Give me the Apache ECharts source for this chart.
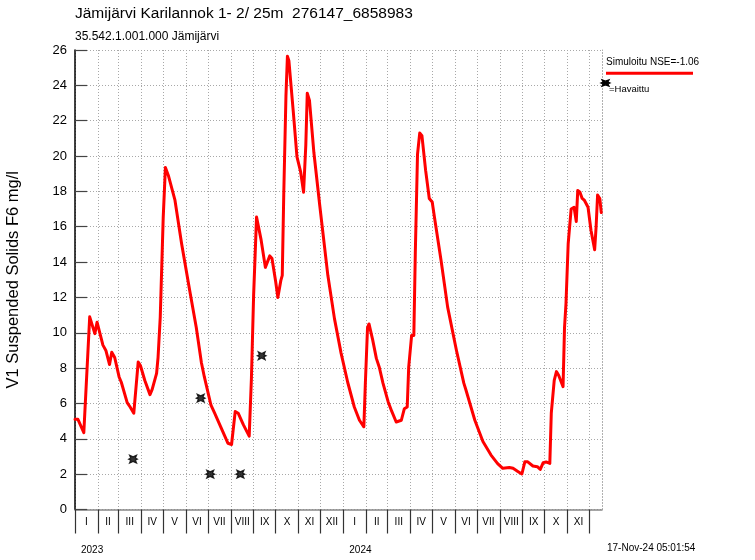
<!DOCTYPE html>
<html><head><meta charset="utf-8">
<script src="https://cdn.jsdelivr.net/npm/echarts@6/dist/echarts.min.js"></script>
<style>html,body{margin:0;padding:0;background:#fff}#c{width:755px;height:560px}</style>
</head><body><div id="c"></div>
<script>
// ---- data ----
const simDates = [
'2023-01-01','2023-01-05','2023-01-13','2023-01-21','2023-01-28','2023-01-31','2023-02-08','2023-02-12','2023-02-17','2023-02-20',
'2023-02-24','2023-03-02','2023-03-05','2023-03-13','2023-03-17','2023-03-22','2023-03-28','2023-03-31','2023-04-06','2023-04-13',
'2023-04-16','2023-04-22','2023-04-24','2023-04-27','2023-05-01','2023-05-04','2023-05-08','2023-05-17','2023-05-26','2023-06-06',
'2023-06-15','2023-06-22','2023-06-26','2023-07-05','2023-07-10','2023-07-19','2023-07-28','2023-08-02','2023-08-07','2023-08-11',
'2023-08-18','2023-08-26','2023-08-29','2023-09-01','2023-09-05','2023-09-07','2023-09-11','2023-09-17','2023-09-23','2023-09-26',
'2023-10-01','2023-10-04','2023-10-08','2023-10-10','2023-10-12','2023-10-15','2023-10-17','2023-10-19','2023-10-25','2023-10-30',
'2023-11-04','2023-11-08','2023-11-11','2023-11-13','2023-11-16','2023-11-22','2023-11-30','2023-12-11','2023-12-20','2023-12-29',
'2024-01-07','2024-01-16','2024-01-23','2024-01-29','2024-01-31','2024-02-03','2024-02-05','2024-02-10','2024-02-15','2024-02-19',
'2024-02-24','2024-03-02','2024-03-07','2024-03-13','2024-03-20','2024-03-24','2024-03-28','2024-03-30','2024-04-03','2024-04-06',
'2024-04-08','2024-04-11','2024-04-14','2024-04-17','2024-04-22','2024-04-27','2024-05-01','2024-05-04','2024-05-13','2024-05-22',
'2024-06-03','2024-06-13','2024-06-16','2024-06-28','2024-07-09','2024-07-20','2024-07-29','2024-08-05','2024-08-14','2024-08-19',
'2024-08-26','2024-08-31','2024-09-04','2024-09-08','2024-09-15','2024-09-21','2024-09-25','2024-09-29','2024-10-03','2024-10-08',
'2024-10-10','2024-10-14','2024-10-17','2024-10-20','2024-10-26','2024-10-28','2024-10-30','2024-11-02','2024-11-06','2024-11-10',
'2024-11-13','2024-11-15','2024-11-18','2024-11-21','2024-11-24','2024-11-29','2024-12-03','2024-12-08','2024-12-10','2024-12-12',
'2024-12-15','2024-12-17'
];
const simValues = [
5.1,5.1,4.35,10.9,9.95,10.6,9.3,9.0,8.2,8.9,
8.6,7.5,7.2,6.05,5.8,5.45,8.35,8.15,7.3,6.5,
6.8,7.7,8.6,10.9,16.5,19.35,18.9,17.5,15.05,12.4,
10.3,8.3,7.5,5.9,5.45,4.6,3.75,3.68,5.55,5.45,
4.8,4.15,7.4,12.1,16.55,16.45,15.3,13.7,14.35,14.2,
12.9,12.0,12.95,13.25,17.8,23.4,25.65,25.4,22.5,19.95,
19.1,17.95,20.6,23.55,23.15,20.2,17.2,13.25,10.8,8.85,
7.2,5.8,5.05,4.68,7.1,10.3,10.5,9.6,8.55,8.05,
7.15,6.1,5.55,4.95,5.05,5.7,5.8,8.05,9.85,9.85,
14.5,20.1,21.3,21.15,19.2,17.6,17.4,16.55,14.1,11.45,
9.0,7.15,6.75,5.05,3.85,3.08,2.6,2.33,2.38,2.33,
2.14,2.01,2.7,2.7,2.46,2.42,2.27,2.65,2.69,2.61,
5.45,7.3,7.8,7.6,6.95,10.3,11.65,15.05,17.0,17.1,
16.3,18.05,17.95,17.6,17.5,17.1,15.8,14.7,16.0,17.8,
17.6,16.8
];
const obsDates = ['2023-03-21','2023-06-21','2023-07-04','2023-08-14','2023-09-12'];
const obsValues = [2.85, 6.3, 2.0, 2.0, 8.7];

const romanMonths = ['I','II','III','IV','V','VI','VII','VIII','IX','X','XI','XII'];
const years = [2023, 2024];
const axisStart = '2023-01-01';
const axisEnd = '2024-12-18';
const yMin = 0, yMax = 26, yStep = 2;

const titleText = 'Jämijärvi Karilannok 1- 2/ 25m  276147_6858983';
const subText = '35.542.1.001.000 Jämijärvi';
const yName = 'V1 Suspended Solids F6 mg/l';
const simLabel = 'Simuloitu NSE=-1.06';
const obsLabel = '=Havaittu';
const stampText = '17-Nov-24 05:01:54';

// ---- build ----
const FONT = '"Liberation Sans", Arial, Helvetica, sans-serif';
function ts(s) { const p = s.split('-').map(Number); return new Date(p[0], p[1] - 1, p[2]).getTime(); }
const startTs = ts(axisStart), endTs = ts(axisEnd);
const monthStarts = [];
years.forEach(y => { for (let m = 0; m < 12; m++) monthStarts.push(new Date(y, m, 1).getTime()); });
const monthMids = [];
years.forEach(y => {
  for (let m = 0; m < 12; m++) {
    const s = new Date(y, m, 1).getTime(), e = new Date(y, m + 1, 1).getTime();
    if (e <= endTs) monthMids.push((s + e) / 2);
  }
});
const yearStarts = years.map(y => new Date(y, 0, 1).getTime());

const simData = simDates.map((d, i) => [ts(d), simValues[i]]);
const obsData = obsDates.map((d, i) => [ts(d), obsValues[i]]);

// asterisk-like marker outline in a 10x10 box
const STAR_PTS = [[10,5],[7.6,6.1],[8.9,8.9],[5,7.3],[1.1,8.9],[2.4,6.1],[0,5],[2.4,3.9],[1.1,1.1],[5,2.7],[8.9,1.1],[7.6,3.9]];
const STAR = 'M' + STAR_PTS.map(p => p[0] + ',' + p[1]).join('L') + 'Z';
const legendStarPts = STAR_PTS.map(p => [601 + p[0] * 0.9, 79 + p[1] * 0.8]);

const chart = echarts.init(document.getElementById('c'), null, {renderer: 'canvas'});
chart.setOption({
  animation: false,
  backgroundColor: '#fff',
  textStyle: {fontFamily: FONT},
  title: [
    {text: titleText, left: 75, top: 5, padding: 0,
     textStyle: {fontSize: 15.5, fontWeight: 'normal', color: '#000', fontFamily: FONT, lineHeight: 18}},
    {text: subText, left: 75, top: 30, padding: 0,
     textStyle: {fontSize: 12, fontWeight: 'normal', color: '#000', fontFamily: FONT, lineHeight: 14}}
  ],
  grid: {left: 75, right: 153, top: 50, bottom: 50.5, containLabel: false, outerBoundsMode: 'none'},
  xAxis: [
    {
      type: 'value', min: startTs, max: endTs, position: 'bottom', scale: true,
      axisLine: {show: true, lineStyle: {color: '#888', width: 1.5}},
      axisTick: {show: true, inside: false, length: 24, customValues: monthStarts,
                 lineStyle: {color: '#333', width: 1.2}},
      axisLabel: {show: true, customValues: monthMids, margin: 8, fontSize: 10, color: '#000', fontFamily: FONT,
                  formatter: v => romanMonths[new Date(v).getMonth()]},
      splitLine: {show: true, lineStyle: {color: '#a8a8a8', width: 1, type: [1, 2]}}
    },
    {
      type: 'value', min: startTs, max: endTs, position: 'bottom', scale: true,
      axisLine: {show: false}, axisTick: {show: false}, splitLine: {show: false},
      axisLabel: {show: true, customValues: yearStarts, margin: 36, fontSize: 10, color: '#000', fontFamily: FONT,
                  align: 'left', padding: [0, 0, 0, 6],
                  formatter: v => String(new Date(v).getFullYear())}
    }
  ],
  yAxis: [
    {
      type: 'value', min: yMin, max: yMax, interval: yStep, position: 'left',
      name: yName, nameLocation: 'middle', nameGap: 53, nameRotate: 90,
      nameTextStyle: {fontSize: 16.5, color: '#000', fontFamily: FONT},
      axisLine: {show: true, lineStyle: {color: '#000', width: 1.5}},
      axisTick: {show: true, inside: true, length: 12, lineStyle: {color: '#444', width: 1.2}},
      axisLabel: {margin: 8, fontSize: 13, color: '#000', fontFamily: FONT},
      splitLine: {show: true, lineStyle: {color: '#a8a8a8', width: 1, type: [1, 2]}}
    },
    {
      type: 'value', min: yMin, max: yMax, interval: yStep, position: 'right',
      axisLine: {show: true, lineStyle: {color: '#a8a8a8', width: 1, type: [1, 2]}},
      axisTick: {show: false}, axisLabel: {show: false}, splitLine: {show: false}
    }
  ],
  series: [
    {
      name: 'sim', type: 'line', data: simData, xAxisIndex: 0, yAxisIndex: 0,
      showSymbol: false, symbol: 'none', smooth: false,
      lineStyle: {color: '#ff0000', width: 3, join: 'round', cap: 'round'}, z: 3
    },
    {
      name: 'obs', type: 'scatter', data: obsData, xAxisIndex: 0, yAxisIndex: 0,
      symbol: 'path://' + STAR, symbolSize: [9, 8],
      itemStyle: {color: '#000', borderColor: '#000', borderWidth: 1.2}, z: 4
    }
  ],
  graphic: [
    {type: 'text', x: 606, y: 62, z: 10,
     style: {text: simLabel, font: '10px ' + FONT, fill: '#000', verticalAlign: 'middle'}},
    {type: 'line', z: 10, shape: {x1: 606, y1: 73.3, x2: 693, y2: 73.3},
     style: {stroke: '#ff0000', lineWidth: 3}},
    {type: 'polygon', z: 10, shape: {points: legendStarPts},
     style: {fill: '#000', stroke: '#000', lineWidth: 1.2}},
    {type: 'text', x: 609, y: 89.5, z: 10,
     style: {text: obsLabel, font: '9.5px ' + FONT, fill: '#000', verticalAlign: 'middle'}},
    {type: 'text', x: 607, y: 548.5, z: 10,
     style: {text: stampText, font: '10px ' + FONT, fill: '#000', verticalAlign: 'middle'}}
  ]
});
</script>
</body></html>
